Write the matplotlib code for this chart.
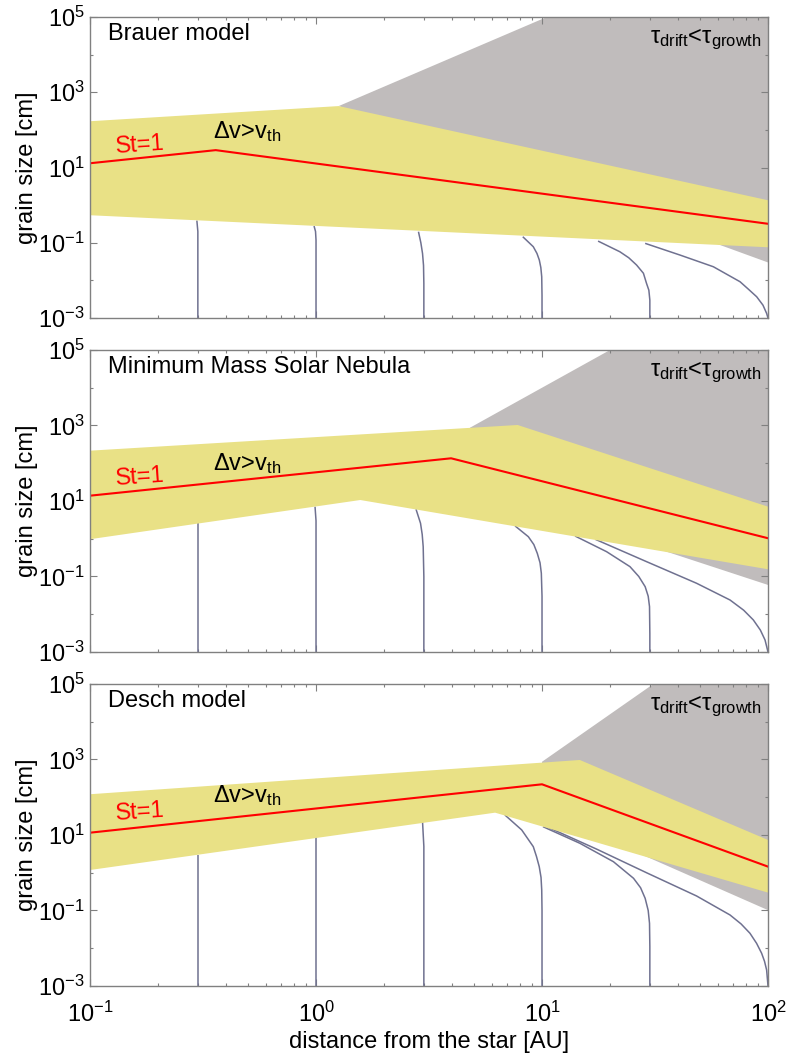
import matplotlib
matplotlib.use("Agg")
import matplotlib.pyplot as plt
from matplotlib.ticker import NullFormatter, LogLocator

plt.rcParams['font.family'] = ['Liberation Sans', 'DejaVu Sans']
plt.rcParams['mathtext.fontset'] = 'custom'
plt.rcParams['mathtext.rm'] = 'Liberation Sans'
plt.rcParams['mathtext.it'] = 'Liberation Sans:italic'
plt.rcParams['mathtext.bf'] = 'Liberation Sans:bold'

# ---- data (r in AU, a in cm) ----
titles = ["Brauer model", "Minimum Mass Solar Nebula", "Desch model"]

# fragmentation band (upper edge, lower edge)
band_up_r = [[0.1, 1.26, 100], [0.1, 7.8, 100], [0.1, 14.7, 100]]
band_up_a = [[170, 430, 1.35], [215, 1030, 7.06], [120, 970, 7.38]]
band_lo_r = [[0.1, 100], [0.1, 1.57, 100], [0.1, 6.2, 100]]
band_lo_a = [[0.54, 0.076], [0.97, 10.6, 0.155], [1.18, 39, 0.297]]

# St=1 line
st_r = [[0.1, 0.36, 100], [0.1, 3.96, 100], [0.1, 10, 100]]
st_a = [[13, 29, 0.32], [13.8, 135, 1.03], [11.5, 220, 1.45]]

# drift < growth region
drift_r = [[1.26, 10.5, 100, 100], [4.8, 20, 100, 100, 4.8], [10, 31.1, 100, 100, 10]]
drift_a = [[430, 1e5, 1e5, 0.03], [871, 1e5, 1e5, 0.0596, 23.2], [870, 1e5, 1e5, 0.102, 44]]

# growth tracks starting at 0.3, 1, 3, 10, 30, 100 AU
tracks_brauer = [
    ([0.3, 0.3, 0.297], [1e-3, 0.2, 0.39]),
    ([1.0, 1.0, 0.995, 0.98], [1e-3, 0.118, 0.2, 0.279]),
    ([3.0, 3.0, 2.99, 2.96, 2.91, 2.84], [1e-3, 0.0083, 0.025, 0.052, 0.1, 0.197]),
    ([10, 10, 9.97, 9.88, 9.73, 9.5, 9.15, 8.22],
     [1e-3, 0.004, 0.0125, 0.022, 0.0347, 0.052, 0.0786, 0.145]),
    ([30, 30, 29.7, 29.0, 28.1, 26.2, 24.2, 22.1, 17.7],
     [1e-3, 0.003, 0.0055, 0.00835, 0.0155, 0.0257, 0.04, 0.0578, 0.111]),
    ([100, 98.6, 95.0, 89.1, 82.0, 75.2, 57.3, 40.8, 28.6],
     [1e-3, 0.00133, 0.0022, 0.00368, 0.0058, 0.00923, 0.0231, 0.0472, 0.0966]),
]
tracks_mmsn = [
    ([0.3, 0.3], [1e-3, 2.57]),
    ([1.0, 1.0, 0.99], [1e-3, 3.0, 7.06]),
    ([3.0, 3.0, 2.98, 2.95, 2.90, 2.77], [1e-3, 0.1, 0.615, 1.3, 2.57, 6.03]),
    ([10, 10, 9.93, 9.8, 9.53, 9.2, 8.70, 7.6], [1e-3, 0.03, 0.122, 0.23, 0.41, 0.7, 1.13, 2.18]),
    ([30, 30, 29.9, 29.5, 28.6, 26.8, 24.5, 19.3, 14.0],
     [1e-3, 0.003, 0.0159, 0.03, 0.0537, 0.1, 0.182, 0.454, 1.18]),
    ([100, 97.0, 92.5, 86.1, 78.0, 67.9, 48.3, 29.0, 17.2],
     [1e-3, 0.00208, 0.0038, 0.00705, 0.0128, 0.0238, 0.066, 0.247, 0.966]),
]
tracks_desch = [
    ([0.3, 0.3], [1e-3, 2.95]),
    ([1.0, 1.0], [1e-3, 8.7]),
    ([3.0, 3.0, 2.96], [1e-3, 5.0, 22.5]),
    ([10, 10, 9.97, 9.9, 9.72, 9.45, 9.15, 8.13, 6.85],
     [1e-3, 0.1, 0.35, 0.75, 1.45, 2.7, 4.9, 13.6, 33.9]),
    ([30, 30, 29.9, 29.5, 28.6, 27.3, 25.4, 20.7, 14.7, 10.1],
     [1e-3, 0.011, 0.0457, 0.1, 0.21, 0.4, 0.713, 1.96, 6.03, 16.6]),
    ([100, 98.6, 96.5, 93.7, 89.0, 83.2, 76.0, 67.9, 48.3, 29.0, 17.5, 10.1],
     [1e-3, 0.00265, 0.0045, 0.00735, 0.0135, 0.0249, 0.044, 0.076, 0.242, 1.0, 4.18, 18.4]),
]
tracks = [tracks_brauer, tracks_mmsn, tracks_desch]

# label positions (data coords)
st_lab = [(0.128, 24), (0.128, 26), (0.128, 25)]
dv_lab = [(0.35, 61), (0.35, 66), (0.35, 76)]

yellow = "#e9e186"
grey = "#c0bcbc"
track_col = "#6f7190"
spine_col = "#808080"
fs = 17

fig = plt.figure(figsize=(7.89, 10.57), dpi=100)
boxes = [[0.1141, 0.6991, 0.8593, 0.2848],
         [0.1141, 0.3832, 0.8593, 0.2857],
         [0.1141, 0.0672, 0.8593, 0.2857]]

for i in range(3):
    ax = fig.add_axes(boxes[i])
    ax.set_xscale("log")
    ax.set_yscale("log")

    ax.fill(drift_r[i], drift_a[i], color=grey, lw=0, zorder=1)
    for r, a in tracks[i]:
        ax.plot(r, a, color=track_col, lw=1.1, zorder=2, solid_capstyle="butt")
    ax.fill(band_up_r[i] + band_lo_r[i][::-1], band_up_a[i] + band_lo_a[i][::-1],
            color=yellow, lw=0, zorder=3)
    ax.plot(st_r[i], st_a[i], color="red", lw=1.5, zorder=4)

    ax.text(0.027, 0.925, titles[i], transform=ax.transAxes, fontsize=fs, va="baseline")
    ax.text(0.99, 0.912, r"τ$_{\rm drift}$<τ$_{\rm growth}$", transform=ax.transAxes,
            fontsize=fs, ha="right", va="baseline")
    ax.text(st_lab[i][0], st_lab[i][1], "St=1", color="red", fontsize=fs,
            va="baseline", rotation=4)
    ax.text(dv_lab[i][0], dv_lab[i][1], r"Δv>v$_{\rm th}$", fontsize=fs, va="baseline")

    ax.set_xlim(0.1, 100)
    ax.set_ylim(1e-3, 1e5)
    ax.set_yticks([1e-3, 1e-1, 1e1, 1e3, 1e5])
    ax.set_yticklabels(["$10^{-3}$", "$10^{-1}$", "$10^{1}$", "$10^{3}$", "$10^{5}$"])
    ax.set_yticks([1e-2, 1e0, 1e2, 1e4], minor=True)
    ax.yaxis.set_minor_formatter(NullFormatter())
    ax.set_xticks([0.1, 1, 10, 100])
    ax.xaxis.set_minor_locator(LogLocator(base=10, subs=range(2, 10)))
    ax.xaxis.set_minor_formatter(NullFormatter())
    if i == 2:
        ax.set_xticklabels(["$10^{-1}$", "$10^{0}$", "$10^{1}$", "$10^{2}$"])
        ax.set_xlabel("distance from the star [AU]", fontsize=fs, labelpad=3)
    else:
        ax.set_xticklabels([])
    ax.set_ylabel("grain size [cm]", fontsize=fs, labelpad=0)

    ax.tick_params(which="both", direction="in", top=True, right=True,
                   color=spine_col, labelsize=fs)
    ax.tick_params(which="major", length=5, width=0.8)
    ax.tick_params(which="minor", length=2.5, width=0.8)
    ax.tick_params(axis="x", pad=11)
    ax.tick_params(axis="y", pad=4)
    for s in ax.spines.values():
        s.set_color(spine_col)
        s.set_linewidth(1.0)
        s.set_zorder(5)

fig.savefig("out.png", dpi=100)
